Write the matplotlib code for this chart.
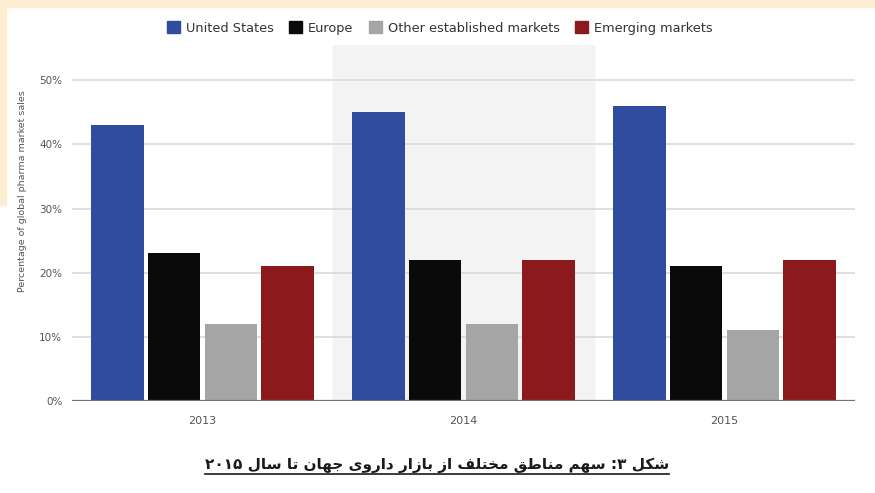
#!/usr/bin/env python3

import numpy as np
import matplotlib
matplotlib.use('Agg')
import matplotlib.pyplot as plt
from matplotlib.patches import Patch, Rectangle
from matplotlib.lines import Line2D

years = ['2013', '2014', '2015']
regions = ['United States', 'Europe', 'Other established markets', 'Emerging markets']
us_share = [43, 45, 46]
europe_share = [23, 22, 21]
other_share = [12, 12, 11]
emerging_share = [21, 22, 22]
yticks = [0, 10, 20, 30, 40, 50]
ylabel = 'Percentage of global pharma market sales'
caption = 'شکل ۳: سهم مناطق مختلف از بازار داروی جهان تا سال ۲۰۱۵'

colors = ['#304c9f', '#0a0a0a', '#a5a5a5', '#8c1a1c']

# presentation forms: isolated, final, initial, medial (None -> not joining to next)
forms = {
    'ا': ('\uFE8D', '\uFE8E', None, None),
    'ب': ('\uFE8F', '\uFE90', '\uFE91', '\uFE92'),
    'ت': ('\uFE95', '\uFE96', '\uFE97', '\uFE98'),
    'ج': ('\uFE9D', '\uFE9E', '\uFE9F', '\uFEA0'),
    'خ': ('\uFEA5', '\uFEA6', '\uFEA7', '\uFEA8'),
    'د': ('\uFEA9', '\uFEAA', None, None),
    'ر': ('\uFEAD', '\uFEAE', None, None),
    'ز': ('\uFEAF', '\uFEB0', None, None),
    'س': ('\uFEB1', '\uFEB2', '\uFEB3', '\uFEB4'),
    'ش': ('\uFEB5', '\uFEB6', '\uFEB7', '\uFEB8'),
    'ط': ('\uFEC1', '\uFEC2', '\uFEC3', '\uFEC4'),
    'ف': ('\uFED1', '\uFED2', '\uFED3', '\uFED4'),
    'ق': ('\uFED5', '\uFED6', '\uFED7', '\uFED8'),
    'ل': ('\uFEDD', '\uFEDE', '\uFEDF', '\uFEE0'),
    'م': ('\uFEE1', '\uFEE2', '\uFEE3', '\uFEE4'),
    'ن': ('\uFEE5', '\uFEE6', '\uFEE7', '\uFEE8'),
    'ه': ('\uFEE9', '\uFEEA', '\uFEEB', '\uFEEC'),
    'و': ('\uFEED', '\uFEEE', None, None),
    'ک': ('\uFB8E', '\uFB8F', '\uFB90', '\uFB91'),
    'ی': ('\uFBFC', '\uFBFD', '\uFBFE', '\uFBFF'),
}


def shape_word(word):
    out = []
    for i, ch in enumerate(word):
        if ch not in forms:
            out.append(ch)
            continue
        prev = word[i - 1] if i > 0 else ''
        nxt = word[i + 1] if i + 1 < len(word) else ''
        jp = prev in forms and forms[prev][2] is not None
        jn = forms[ch][2] is not None and nxt in forms
        idx = {(False, False): 0, (True, False): 1, (False, True): 2, (True, True): 3}[(jp, jn)]
        out.append(forms[ch][idx])
    return ''.join(out)


def rtl(text):
    # shape each word, then lay words and letters out right to left (digits stay LTR)
    words = []
    for w in text.split(' '):
        if w.isdigit():
            words.append(w)
        else:
            words.append(shape_word(w)[::-1])
    return ' '.join(words[::-1])


fig = plt.figure(figsize=(8.75, 4.93), dpi=100)
fig.patch.set_facecolor('white')
ax = fig.add_axes([72 / 875, 1 - 401 / 493, (855 - 72) / 875, (401 - 45) / 493])

x = np.arange(len(years))
series = [us_share, europe_share, other_share, emerging_share]
offsets = [-0.326, -0.109, 0.109, 0.326]
ax.axvspan(0.5, 1.5, color='#f3f3f3', zorder=0)
for vals, off, c in zip(series, offsets, colors):
    ax.bar(x + off, vals, width=0.2, color=c, zorder=3)

ax.set_xlim(-0.5, 2.5)
ax.set_ylim(0, 55.5)
ax.set_yticks(yticks)
ax.set_yticklabels([f'{t}%' for t in yticks])
ax.set_xticks(x)
ax.set_xticklabels(years)
for t in yticks[1:]:
    ax.axhline(t, color='#dcdcdc', lw=1.3, zorder=1)
ax.axhline(0, color='#707070', lw=1.6, zorder=4)
for s in ax.spines.values():
    s.set_visible(False)
ax.tick_params(axis='both', length=0, labelcolor='#555555')
ax.tick_params(axis='y', pad=7, labelsize=7.5)
ax.tick_params(axis='x', pad=11, labelsize=8)

fig.text(23 / 875, 1 - 191 / 493, ylabel, rotation=90, ha='center', va='center',
         fontsize=6.8, color='#555555')

handles = [Patch(facecolor=c, edgecolor=c) for c in colors]
fig.legend(handles, regions, loc='center', bbox_to_anchor=(440 / 875, 1 - 28 / 493),
           ncol=4, frameon=False, fontsize=9.3, handlelength=1.0, handleheight=1.0,
           handletextpad=0.45, columnspacing=1.2, labelcolor='#333333')

cap = fig.text(437 / 875, 1 - 465 / 493, rtl(caption), ha='center', va='center',
               fontsize=11, fontweight='bold', family=['DejaVu Sans'], color='#1a1a1a')

# peach page border
fig.patches.append(Rectangle((0, 1 - 7 / 493), 1, 7 / 493, transform=fig.transFigure,
                             color='#fdeed2', zorder=-1))
fig.patches.append(Rectangle((0, 1 - 205 / 493), 6 / 875, 205 / 493, transform=fig.transFigure,
                             color='#fdeed2', zorder=-1))

fig.canvas.draw()
bb = cap.get_window_extent()
inv = fig.transFigure.inverted()
(x0, y0), (x1, y1) = inv.transform([(bb.x0, bb.y0), (bb.x1, bb.y0)])
fig.lines.append(Line2D([x0, x1], [y0 - 1 / 493, y0 - 1 / 493], transform=fig.transFigure,
                        color='#1a1a1a', lw=1.2))

fig.savefig('out.png', dpi=100)
